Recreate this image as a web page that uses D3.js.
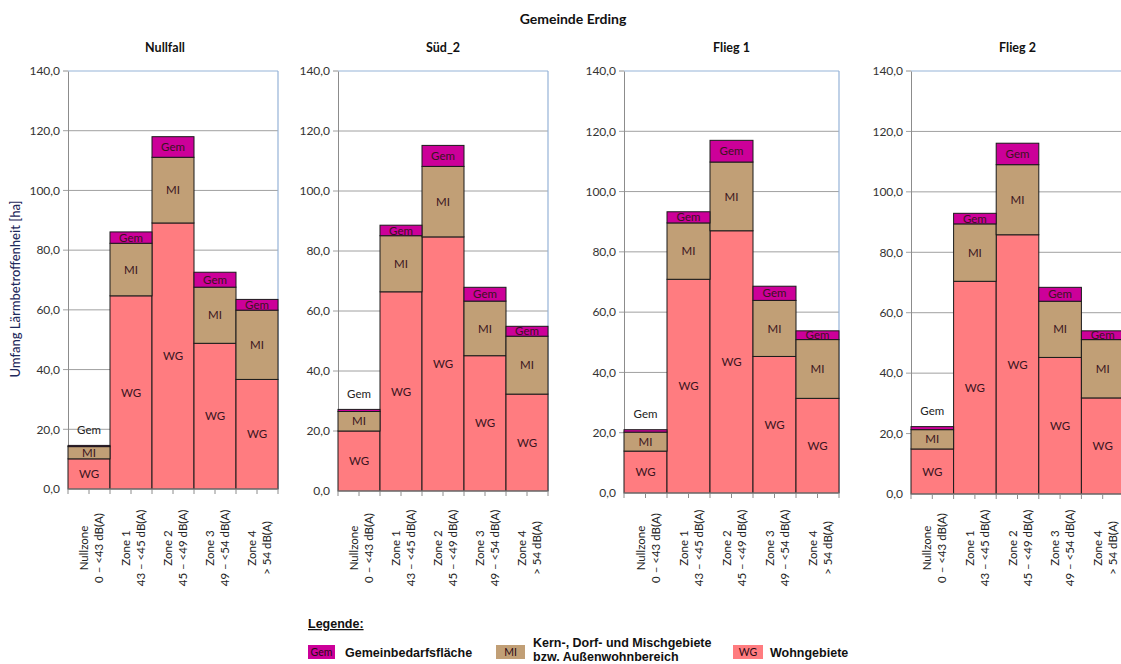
<!DOCTYPE html>
<html>
<head>
<meta charset="utf-8">
<script src="https://cdn.jsdelivr.net/npm/d3@7"></script>
<style>
  html, body { margin: 0; padding: 0; background: #fff; }
  svg { display: block; }
</style>
</head>
<body>
<svg id="chart" width="1121" height="664"></svg>
<script>
// Noise exposure area per zone (ha), stacked by land use, for four scenarios
const chartTitle = "Gemeinde Erding";
const scenarios = ["Nullfall", "Süd_2", "Flieg 1", "Flieg 2"];
const zoneNames = ["Nullzone", "Zone 1", "Zone 2", "Zone 3", "Zone 4"];
const zoneRanges = ["0 – <43 dB(A)", "43 – <45 dB(A)", "45 – <49 dB(A)", "49 – <54 dB(A)", "> 54 dB(A)"];
const yTicks = [0, 20, 40, 60, 80, 100, 120, 140];

// Wohngebiete (WG)
const wgValues = [
  [10.1, 64.7, 89.1, 48.8, 36.7],
  [20.0, 66.4, 84.7, 45.1, 32.3],
  [13.9, 70.9, 87.0, 45.3, 31.4],
  [14.9, 70.4, 85.8, 45.2, 31.8]
];
// Kern-, Dorf- und Mischgebiete (MI)
const miValues = [
  [4.1, 17.6, 22.0, 18.8, 23.2],
  [6.5, 18.7, 23.5, 18.2, 19.3],
  [6.3, 18.7, 22.8, 18.6, 19.5],
  [6.4, 19.0, 23.2, 18.6, 19.3]
];
// Gemeinbedarfsfläche (Gem)
const gemValues = [
  [0.4, 3.8, 6.9, 5.0, 3.6],
  [0.7, 3.5, 7.0, 4.6, 3.3],
  [0.8, 3.7, 7.2, 4.7, 2.9],
  [1.0, 3.5, 7.1, 4.6, 2.9]
];

const seriesKeys = ["WG", "MI", "Gem"];
const seriesColors = { WG: "#FF7C80", MI: "#C19F76", Gem: "#CC0099" };

// panel plot frames
const panels = [
  { left: 68,  right: 278,  top: 71, bottom: 489 },
  { left: 338, right: 548,  top: 71, bottom: 491 },
  { left: 624, right: 839,  top: 71, bottom: 493 },
  { left: 911, right: 1124, top: 71, bottom: 494 }
];

const svg = d3.select("#chart");
const chartFont = "Lato, 'Open Sans', sans-serif";

svg.append("text")
  .attr("x", 573).attr("y", 24)
  .attr("text-anchor", "middle")
  .attr("font-family", chartFont)
  .attr("font-weight", "bold")
  .attr("font-size", 14)
  .attr("fill", "#111")
  .text(chartTitle);

svg.append("text")
  .attr("transform", "translate(20,289) rotate(-90)")
  .attr("text-anchor", "middle")
  .attr("font-family", chartFont)
  .attr("font-size", 13)
  .attr("font-weight", 500)
  .attr("fill", "#1F2A5C")
  .text("Umfang Lärmbetroffenheit [ha]");

const fmt = v => d3.format(".1f")(v).replace(".", ",");

scenarios.forEach((name, si) => {
  const p = panels[si];
  const g = svg.append("g");

  const x = d3.scaleBand().domain(zoneNames).range([p.left, p.right]).padding(0);
  const y = d3.scaleLinear().domain([0, 140]).range([p.bottom, p.top]);

  // panel title
  g.append("text")
    .attr("x", (p.left + p.right) / 2 - (si === 0 ? 8 : 0)).attr("y", 52)
    .attr("text-anchor", "middle")
    .attr("font-family", chartFont)
    .attr("font-weight", "bold")
    .attr("font-size", 12.5)
    .attr("fill", "#111")
    .text(name);

  // gridlines with short outer ticks
  g.selectAll("line.grid")
    .data(yTicks.filter(t => t > 0 && t < 140))
    .join("line")
    .attr("x1", p.left - 5).attr("x2", p.right)
    .attr("y1", d => y(d)).attr("y2", d => y(d))
    .attr("stroke", "#A0A0A0").attr("stroke-width", 1);

  // plot frame: blue top/right, grey left axis
  g.append("line")
    .attr("x1", p.left).attr("x2", p.right)
    .attr("y1", y(140)).attr("y2", y(140))
    .attr("stroke", "#95B3D7").attr("stroke-width", 1.2);
  g.append("line")
    .attr("x1", p.right).attr("x2", p.right)
    .attr("y1", y(140)).attr("y2", y(0))
    .attr("stroke", "#95B3D7").attr("stroke-width", 1.2);
  g.append("line")
    .attr("x1", p.left - 5).attr("x2", p.left)
    .attr("y1", y(140)).attr("y2", y(140))
    .attr("stroke", "#909090");

  // y axis labels
  const yAxis = d3.axisLeft(y).tickValues(yTicks).tickFormat(fmt).tickSize(0).tickPadding(8);
  const ya = g.append("g").attr("transform", `translate(${p.left},0)`).call(yAxis);
  ya.select(".domain").attr("stroke", "#8C8C8C");
  ya.selectAll("text")
    .attr("font-family", chartFont)
    .attr("font-size", 12)
    .attr("fill", "#333");

  // stacked bars
  const rows = zoneNames.map((z, i) => ({
    zone: z, WG: wgValues[si][i], MI: miValues[si][i], Gem: gemValues[si][i]
  }));
  const stacked = d3.stack().keys(seriesKeys)(rows);

  stacked.forEach(layer => {
    const key = layer.key;
    g.selectAll(null)
      .data(layer)
      .join("rect")
      .attr("x", d => x(d.data.zone))
      .attr("width", x.bandwidth())
      .attr("y", d => y(d[1]))
      .attr("height", d => y(d[0]) - y(d[1]))
      .attr("fill", seriesColors[key])
      .attr("stroke", "#1a1a1a")
      .attr("stroke-width", 1);
  });

  // segment labels
  stacked.forEach(layer => {
    const key = layer.key;
    g.selectAll(null)
      .data(layer)
      .join("text")
      .attr("x", d => x(d.data.zone) + x.bandwidth() / 2)
      .attr("y", d => {
        const h = d[1] - d[0];
        if (key === "Gem" && h < 2) return y(d[1]) - 16;
        return (y(d[0]) + y(d[1])) / 2;
      })
      .attr("dy", "0.36em")
      .attr("text-anchor", "middle")
      .attr("font-family", chartFont)
      .attr("font-size", 11.5)
      .attr("fill", d => (key === "Gem" && d[1] - d[0] < 2) ? "#222" : "#3A1420")
      .text(key);
  });

  // x axis line and ticks at band edges and centres
  g.append("line")
    .attr("x1", p.left).attr("x2", p.right)
    .attr("y1", y(0)).attr("y2", y(0))
    .attr("stroke", "#8C8C8C");
  const tickXs = [];
  zoneNames.forEach(z => { tickXs.push(x(z)); tickXs.push(x(z) + x.bandwidth() / 2); });
  tickXs.push(p.right);
  g.selectAll("line.xt")
    .data(tickXs)
    .join("line")
    .attr("x1", d => d).attr("x2", d => d)
    .attr("y1", y(0)).attr("y2", y(0) + 5)
    .attr("stroke", "#8C8C8C");

  // rotated two-line category labels
  zoneNames.forEach((z, i) => {
    const cx = x(z) + x.bandwidth() / 2;
    const t = g.append("text")
      .attr("transform", `translate(${cx},${548}) rotate(-90)`)
      .attr("text-anchor", "middle")
      .attr("font-family", chartFont)
      .attr("font-size", 11.5)
      .attr("fill", "#222");
    t.append("tspan").attr("x", 0).attr("y", -1).text(z);
    t.append("tspan").attr("x", 0).attr("y", 14).text(zoneRanges[i]);
  });
});

// legend
const legendFont = "'Liberation Sans', Arial, sans-serif";
const lg = svg.append("g");
lg.append("text")
  .attr("x", 308).attr("y", 628)
  .attr("font-family", legendFont)
  .attr("font-weight", "bold")
  .attr("font-size", 12.5)
  .attr("fill", "#111")
  .attr("text-decoration", "underline")
  .text("Legende:");

const legendItems = [
  { key: "Gem", x: 308, w: 27, lines: ["Gemeinbedarfsfläche"], tx: 345 },
  { key: "MI",  x: 496, w: 29, lines: ["Kern-, Dorf- und Mischgebiete", "bzw. Außenwohnbereich"], tx: 533 },
  { key: "WG",  x: 733, w: 30, lines: ["Wohngebiete"], tx: 770 }
];
legendItems.forEach(it => {
  lg.append("rect")
    .attr("x", it.x).attr("y", 645)
    .attr("width", it.w).attr("height", 14)
    .attr("fill", seriesColors[it.key]);
  lg.append("text")
    .attr("x", it.x + it.w / 2).attr("y", 656)
    .attr("text-anchor", "middle")
    .attr("font-family", chartFont)
    .attr("font-size", 10.5)
    .attr("fill", "#2a0a14")
    .text(it.key);
  const t = lg.append("text")
    .attr("font-family", legendFont)
    .attr("font-weight", "bold")
    .attr("font-size", 12.5)
    .attr("fill", "#111");
  if (it.lines.length === 1) {
    t.append("tspan").attr("x", it.tx).attr("y", 657).text(it.lines[0]);
  } else {
    t.append("tspan").attr("x", it.tx).attr("y", 647).text(it.lines[0]);
    t.append("tspan").attr("x", it.tx).attr("y", 661).text(it.lines[1]);
  }
});
</script>
</body>
</html>
